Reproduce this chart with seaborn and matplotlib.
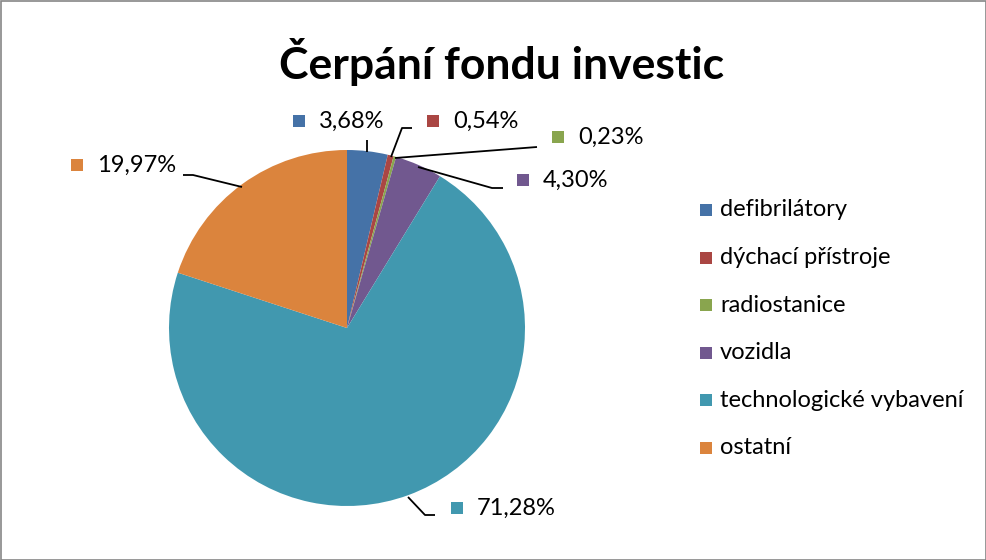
import numpy as np
import matplotlib
matplotlib.use("Agg")
import matplotlib.pyplot as plt
import seaborn as sns
from matplotlib.patches import Rectangle

categories = ["defibrilátory", "dýchací přístroje", "radiostanice", "vozidla",
              "technologické vybavení", "ostatní"]
values = [3.68, 0.54, 0.23, 4.30, 71.28, 19.97]
labels = ["3,68%", "0,54%", "0,23%", "4,30%", "71,28%", "19,97%"]
title = "Čerpání fondu investic"
colors = ["#4572A7", "#AA4643", "#89A54E", "#71588F", "#4198AF", "#DB843D"]

sns.set_theme(style="white")
plt.rcParams['font.family'] = ['Lato', 'DejaVu Sans']

W, H = 987, 560
fig = plt.figure(figsize=(W / 100, H / 100), dpi=100)
ax = fig.add_axes([0, 0, 1, 1])

def py(y):
    return H - y

cx, cy, r = 347, py(328), 178
wedges, _ = ax.pie(values, colors=colors, startangle=90, counterclock=False,
                   center=(cx, cy), radius=r, frame=True,
                   wedgeprops=dict(linewidth=0))
ax.set_xlim(0, W)
ax.set_ylim(0, H)
ax.axis("off")
ax.set_aspect("equal")

# label layout: (marker x, label y, leader path points after wedge edge)
layout = [
    (299, 121, [(367, 140)]),
    (433, 121, [(402, 128), (412, 128)]),
    (558, 137, [(537, 147)]),
    (523, 180, [(492, 188), (503, 188)]),
    (457, 508, [(425, 515), (435, 515)]),
    (77, 165, [(193, 175), (183, 175)]),
]
starts = [(367, 152), (391, 157), (395, 158), (418, 167), (408, 497), (242, 187)]

fs = 17
for i, (mx, ly, path) in enumerate(layout):
    sx, sy = starts[i]
    pts = [(sx, sy)] + path
    ax.plot([p[0] for p in pts], [py(p[1]) for p in pts], color="black", lw=1.3,
            solid_capstyle="butt")
    ax.add_patch(Rectangle((mx - 6, py(ly) - 6), 12, 12, color=colors[i], lw=0))
    ax.text(mx + 20, py(ly), labels[i], fontsize=fs, va="center", ha="left",
            color="black")

# legend
ly0, dy = 210, 47.6
for i, c in enumerate(categories):
    yy = py(ly0 + i * dy)
    ax.add_patch(Rectangle((700, yy - 6), 12, 12, color=colors[i], lw=0))
    ax.text(720, yy, c, fontsize=fs, va="center", ha="left", color="black")

ax.text(502, py(62), title, fontsize=32, fontweight="bold", ha="center",
        va="center", color="black")

fig.patches.append(Rectangle((0.5, 0.5), W - 1.5, H - 1.5, transform=None,
                             fill=False, edgecolor="#868686", lw=1.2))

fig.savefig("out.png", dpi=100)
